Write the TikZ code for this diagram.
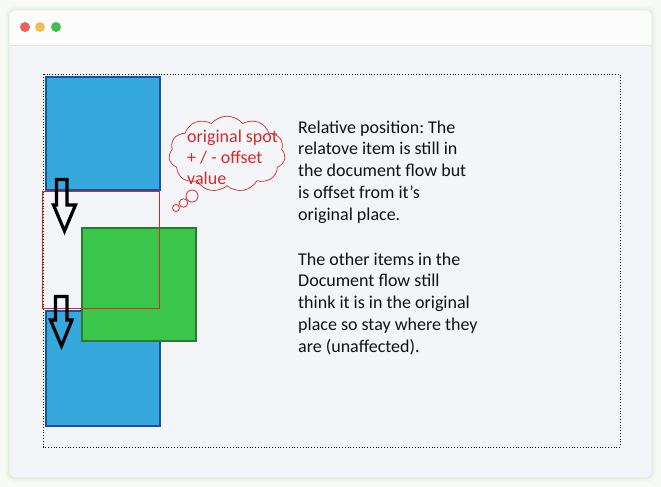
\documentclass[tikz,border=0pt]{standalone}
\usepackage{fontspec}
\setmainfont{Carlito}
\frenchspacing
\usetikzlibrary{shapes.symbols}
\definecolor{pagebg}{HTML}{F8FAF6}
\definecolor{winbg}{HTML}{F4F5F9}
\definecolor{barbg}{HTML}{FCFCFD}
\definecolor{winedge}{HTML}{E4E7E2}
\definecolor{dotred}{HTML}{EC5F5C}
\definecolor{dotyel}{HTML}{F4BF4F}
\definecolor{dotgrn}{HTML}{3EC14C}
\definecolor{boxblue}{HTML}{35A8DC}
\definecolor{boxblueedge}{HTML}{1A50A6}
\definecolor{boxgreen}{HTML}{39C64A}
\definecolor{boxgreenedge}{HTML}{2B7A2E}
\definecolor{spotred}{HTML}{D42A2A}
\definecolor{bodytext}{HTML}{111111}
\tikzset{
  bluebox/.style={draw=boxblueedge, line width=2pt, fill=boxblue},
  greenbox/.style={draw=boxgreenedge, line width=2pt, fill=boxgreen},
  spotbox/.style={draw=spotred, line width=0.8pt},
  hollowarrow/.style={draw=black, line width=3.2pt, line join=miter},
  winddot/.style={circle, inner sep=0pt, minimum size=10pt},
  bodyline/.style={anchor=base west, inner sep=0pt, text=bodytext, font=\fontsize{18}{22}\selectfont},
  cloudline/.style={anchor=base west, inner sep=0pt, text=spotred, font=\fontsize{18}{22}\selectfont},
}
\begin{document}
\begin{tikzpicture}[x=1pt, y=-1pt]
\useasboundingbox (0,0) rectangle (661,487);
\fill[pagebg] (0,0) rectangle (661,487);
% soft shadow
\foreach \s/\o in {4/0.05,3/0.06,2/0.08,1/0.10}{
  \fill[black!40!green!30, opacity=\o, rounded corners=8pt] (9-\s,10-\s) rectangle (652+\s,478+\s);
}
% window
\fill[winbg, rounded corners=6pt] (9,10) rectangle (652,478);
\fill[barbg, rounded corners=6pt] (9,10) rectangle (652,45);
\fill[barbg] (9,30) rectangle (652,45);
\draw[winedge, line width=0.8pt] (9,45) -- (652,45);
\draw[winedge, line width=0.6pt, rounded corners=6pt] (9,10) rectangle (652,478);
\node[winddot, fill=dotred] (d1) at (25,27) {};
\node[winddot, fill=dotyel] (d2) at (40,27) {};
\node[winddot, fill=dotgrn] (d3) at (56,27) {};
% container
\draw[black, line width=0.8pt, dotted] (43,74) rectangle (620,447);
% boxes
\draw[bluebox] (46,77) rectangle (160,190);
\draw[bluebox] (46,311) rectangle (160,426);
\draw[greenbox] (82,228) rectangle (196,341);
\draw[spotbox] (42.5,191) rectangle (159,308);
% arrows
\draw[hollowarrow] (56.5,179.5) -- (67,179.5) -- (67,205) -- (75.5,205) -- (64.5,231) -- (53.5,205) -- (56.5,205) -- cycle;
\draw[hollowarrow] (55.5,296.5) -- (67,296.5) -- (67,320) -- (72,320) -- (61.5,346) -- (50.5,320) -- (55.5,320) -- cycle;
% thought cloud
\node[cloud, cloud ignores aspect, draw=spotred, line width=0.7pt, cloud puffs=11, cloud puff arc=110,
      minimum width=120pt, minimum height=86pt, inner sep=0pt, xscale=0.97, yscale=0.88, transform shape] (cloud) at (227,154) {};
\draw[spotred, line width=0.8pt] (192,196) circle (6);
\draw[spotred, line width=0.8pt] (183.5,203) circle (4.3);
\draw[spotred, line width=0.8pt] (176,208) circle (3.5);
\node[cloudline] (c1) at (187,142) {original spot};
\node[cloudline] (c2) at (187,163) {+ / - offset};
\node[cloudline] (c3) at (187,184) {value};
% description
\foreach \txt [count=\i] in {Relative position: The, relatove item is still in, the document flow but, {is offset from it's}, original place.}{
  \node[bodyline] (ta\i) at (298,133+21.9*\i-21.9) {\txt};
}
\foreach \txt [count=\i] in {The other items in the, Document flow still, think it is in the original, place so stay where they, are (unaffected).}{
  \node[bodyline] (tb\i) at (298,265+21.9*\i-21.9) {\txt};
}
\end{tikzpicture}
\end{document}
